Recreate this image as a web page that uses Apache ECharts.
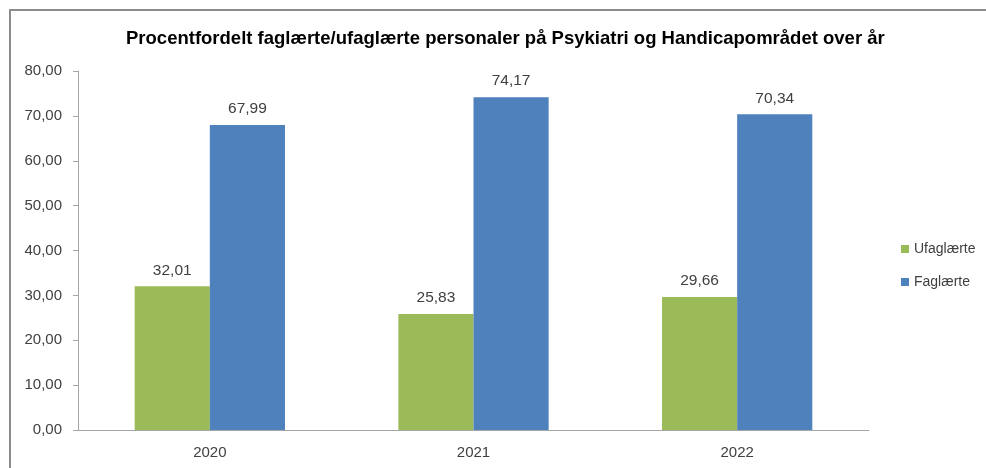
<!DOCTYPE html>
<html>
<head>
<meta charset="utf-8">
<script src="https://cdn.jsdelivr.net/npm/echarts@6/dist/echarts.min.js"></script>
<style>
html,body{margin:0;padding:0;background:#fff;}
#wrap{position:absolute;left:0;top:0;width:986px;height:468px;}
#frame{position:absolute;left:9px;top:9px;right:0;bottom:0;border-top:2px solid #8c8c8c;border-left:2px solid #8c8c8c;}
#chart{position:absolute;left:0;top:0;width:986px;height:468px;}
</style>
</head>
<body>
<div id="wrap"><div id="frame"></div><div id="chart"></div></div>
<script>
// data
var years = ['2020', '2021', '2022'];
var ufaglaerte = [32.01, 25.83, 29.66];
var faglaerte = [67.99, 74.17, 70.34];
var seriesNames = ['Ufaglærte', 'Faglærte'];

function fmt(v) {
    return Number(v).toFixed(2).replace('.', ',');
}

var font = '"Liberation Sans Narrow", "Liberation Sans", sans-serif';
var chart = echarts.init(document.getElementById('chart'));
var option = {
    animation: false,
    color: ['#9bbb59', '#4f81bd'],
    textStyle: {fontFamily: font},
    title: {
        text: 'Procentfordelt faglærte/ufaglærte personaler på Psykiatri og Handicapområdet over år',
        left: 121,
        top: 24,
        textStyle: {fontSize: 18.5, fontWeight: 'bold', color: '#000', fontFamily: font}
    },
    legend: {
        orient: 'vertical',
        left: 896,
        top: 237,
        itemWidth: 8,
        itemHeight: 8,
        itemGap: 19,
        icon: 'rect',
        textStyle: {fontSize: 14, color: '#404040', fontFamily: font},
        data: seriesNames
    },
    grid: {left: 78, right: 117, top: 71, bottom: 38},
    xAxis: {
        type: 'category',
        data: years,
        axisLine: {lineStyle: {color: '#a6a6a6', width: 1}},
        axisTick: {show: false},
        axisLabel: {fontSize: 15, color: '#404040', margin: 15, fontFamily: font}
    },
    yAxis: {
        type: 'value',
        min: 0, max: 80, interval: 10,
        axisLine: {show: true, lineStyle: {color: '#a6a6a6', width: 1}},
        axisTick: {show: true, length: 5, lineStyle: {color: '#a6a6a6'}},
        splitLine: {show: false},
        axisLabel: {fontSize: 15, color: '#404040', margin: 16, fontFamily: font, formatter: fmt}
    },
    series: [
        {
            name: seriesNames[0], type: 'bar', data: ufaglaerte,
            barGap: '0%', barCategoryGap: '43%',
            label: {show: true, position: 'top', distance: 8, fontSize: 15.5, color: '#404040', fontFamily: font, formatter: function (p) { return fmt(p.value); }}
        },
        {
            name: seriesNames[1], type: 'bar', data: faglaerte,
            barGap: '0%', barCategoryGap: '43%',
            label: {show: true, position: 'top', distance: 8, fontSize: 15.5, color: '#404040', fontFamily: font, formatter: function (p) { return fmt(p.value); }}
        }
    ]
};
chart.setOption(option);
</script>
</body>
</html>
